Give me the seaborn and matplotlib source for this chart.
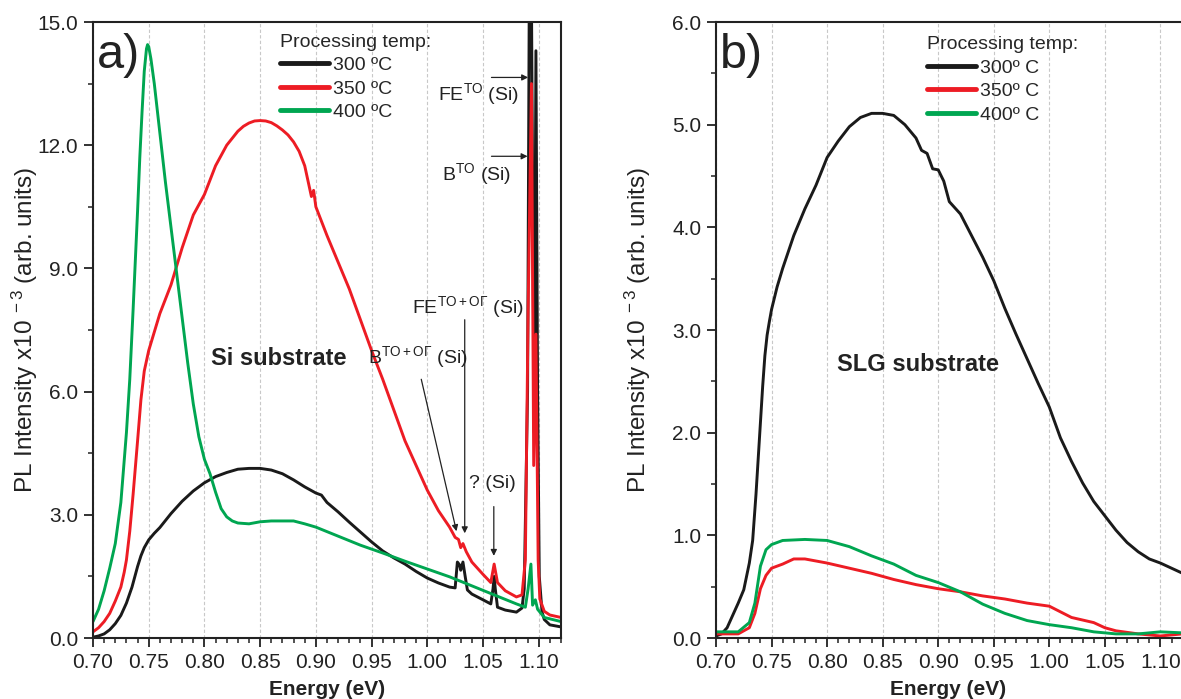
import matplotlib
matplotlib.use("Agg")
import matplotlib.pyplot as plt
from matplotlib.ticker import MultipleLocator, FormatStrFormatter
from matplotlib.lines import Line2D
import seaborn as sns
import pandas as pd

# ---------------- data ----------------
temps_a = ["300 ºC", "350 ºC", "400 ºC"]
temps_b = ["300º C", "350º C", "400º C"]
colors = ["#1a1a1a", "#ed1c24", "#00a651"]

# Panel a) Si substrate
E_a_300 = [0.700, 0.705, 0.710, 0.715, 0.720, 0.725, 0.730, 0.735, 0.740, 0.743, 0.746, 0.750, 0.755,
           0.760, 0.770, 0.780, 0.790, 0.800, 0.810, 0.820, 0.830, 0.840, 0.850, 0.860, 0.870, 0.880,
           0.890, 0.900, 0.905, 0.910, 0.920, 0.930, 0.940, 0.950, 0.960, 0.970, 0.980, 0.990, 1.000,
           1.010, 1.020, 1.025, 1.027, 1.029, 1.030, 1.032, 1.034, 1.036, 1.040, 1.050, 1.057, 1.059,
           1.060, 1.061, 1.063, 1.070, 1.080, 1.085, 1.087, 1.090, 1.0915, 1.0935, 1.0950, 1.0960,
           1.0975, 1.0990, 1.1005, 1.103, 1.105, 1.110, 1.120]
I_a_300 = [0.02, 0.05, 0.10, 0.20, 0.35, 0.55, 0.85, 1.24, 1.74, 2.00, 2.20, 2.39, 2.55,
           2.69, 3.03, 3.33, 3.58, 3.78, 3.93, 4.03, 4.11, 4.13, 4.13, 4.09, 4.00, 3.85,
           3.68, 3.53, 3.48, 3.30, 3.07, 2.82, 2.58, 2.34, 2.12, 1.95, 1.80, 1.62, 1.46,
           1.34, 1.24, 1.22, 1.85, 1.78, 1.65, 1.85, 1.50, 1.17, 1.07, 0.93, 0.83, 1.20,
           1.50, 1.20, 0.75, 0.68, 0.63, 0.73, 1.20, 6.00, 15.5, 15.5, 9.00, 5.00,
           14.3, 6.00, 1.50, 0.63, 0.45, 0.32, 0.27]

E_a_350 = [0.700, 0.705, 0.710, 0.715, 0.720, 0.725, 0.728, 0.730, 0.733, 0.736, 0.740, 0.743, 0.746,
           0.750, 0.755, 0.760, 0.770, 0.780, 0.790, 0.800, 0.810, 0.820, 0.830, 0.835, 0.840, 0.845,
           0.850, 0.855, 0.860, 0.865, 0.870, 0.875, 0.880, 0.885, 0.890, 0.894, 0.896, 0.898, 0.900,
           0.910, 0.920, 0.930, 0.940, 0.950, 0.960, 0.970, 0.980, 0.990, 1.000, 1.010, 1.020, 1.025,
           1.028, 1.030, 1.032, 1.035, 1.040, 1.050, 1.057, 1.060, 1.063, 1.070, 1.080, 1.085, 1.088,
           1.0905, 1.0935, 1.0955, 1.0975, 1.0995, 1.101, 1.105, 1.110, 1.120]
I_a_350 = [0.15, 0.25, 0.40, 0.60, 0.90, 1.24, 1.60, 1.90, 2.60, 3.50, 4.80, 5.80, 6.50,
           7.00, 7.45, 7.90, 8.60, 9.50, 10.30, 10.80, 11.50, 12.00, 12.34, 12.46, 12.54, 12.59,
           12.60, 12.59, 12.55, 12.47, 12.37, 12.25, 12.08, 11.85, 11.50, 11.00, 10.75, 10.90, 10.50,
           9.80, 9.15, 8.50, 7.75, 7.00, 6.30, 5.55, 4.80, 4.20, 3.60, 3.10, 2.70, 2.45,
           2.40, 2.20, 2.30, 2.10, 1.85, 1.55, 1.35, 1.80, 1.35, 1.15, 1.00, 1.05, 1.90,
           8.00, 13.5, 4.20, 7.40, 1.90, 0.95, 0.65, 0.56, 0.50]

E_a_400 = [0.700, 0.705, 0.710, 0.715, 0.720, 0.725, 0.730, 0.733, 0.736, 0.740, 0.742, 0.744, 0.746,
           0.748, 0.749, 0.750, 0.752, 0.755, 0.760, 0.765, 0.770, 0.775, 0.780, 0.785, 0.790, 0.795,
           0.800, 0.805, 0.810, 0.815, 0.820, 0.825, 0.830, 0.840, 0.850, 0.860, 0.870, 0.880, 0.890,
           0.900, 0.920, 0.940, 0.960, 0.980, 1.000, 1.020, 1.040, 1.060, 1.080, 1.088, 1.0905, 1.093,
           1.0945, 1.097, 1.099, 1.105, 1.120]
I_a_400 = [0.40, 0.70, 1.15, 1.70, 2.30, 3.30, 5.00, 6.30, 8.00, 10.40, 11.70, 12.80, 13.80,
           14.35, 14.45, 14.40, 14.10, 13.50, 12.30, 11.10, 10.00, 8.90, 7.80, 6.70, 5.70, 4.90,
           4.35, 4.00, 3.55, 3.15, 2.95, 2.85, 2.80, 2.78, 2.83, 2.85, 2.85, 2.85, 2.78,
           2.70, 2.48, 2.26, 2.07, 1.87, 1.68, 1.49, 1.27, 1.05, 0.83, 0.75, 1.20, 1.80,
           0.80, 0.93, 0.70, 0.50, 0.40]

# Panel b) SLG substrate
E_b_300 = [0.700, 0.705, 0.710, 0.720, 0.725, 0.730, 0.733, 0.736, 0.738, 0.740, 0.742, 0.744, 0.746,
           0.748, 0.750, 0.755, 0.760, 0.770, 0.780, 0.790, 0.800, 0.810, 0.820, 0.830, 0.840, 0.850,
           0.860, 0.870, 0.880, 0.885, 0.890, 0.895, 0.900, 0.905, 0.910, 0.920, 0.930, 0.940, 0.950,
           0.960, 0.970, 0.980, 0.990, 1.000, 1.010, 1.020, 1.030, 1.040, 1.050, 1.060, 1.070, 1.080,
           1.090, 1.100, 1.110, 1.120]
I_b_300 = [0.02, 0.04, 0.10, 0.34, 0.47, 0.73, 0.95, 1.40, 1.75, 2.10, 2.45, 2.75, 2.95,
           3.08, 3.20, 3.42, 3.60, 3.92, 4.18, 4.41, 4.68, 4.84, 4.98, 5.07, 5.11, 5.11,
           5.09, 5.00, 4.87, 4.75, 4.72, 4.57, 4.56, 4.45, 4.25, 4.13, 3.92, 3.71, 3.48,
           3.21, 2.96, 2.72, 2.48, 2.25, 1.95, 1.72, 1.51, 1.33, 1.19, 1.05, 0.93, 0.84,
           0.77, 0.73, 0.68, 0.63]

E_b_350 = [0.700, 0.720, 0.730, 0.735, 0.740, 0.745, 0.750, 0.760, 0.770, 0.780, 0.790, 0.800, 0.820,
           0.840, 0.860, 0.880, 0.900, 0.920, 0.940, 0.960, 0.980, 1.000, 1.020, 1.040, 1.050, 1.060,
           1.080, 1.100, 1.120]
I_b_350 = [0.04, 0.04, 0.10, 0.24, 0.48, 0.61, 0.68, 0.72, 0.77, 0.77, 0.75, 0.73, 0.68,
           0.63, 0.57, 0.52, 0.48, 0.45, 0.41, 0.38, 0.34, 0.31, 0.20, 0.15, 0.10, 0.07,
           0.04, 0.02, 0.04]

E_b_400 = [0.700, 0.720, 0.730, 0.735, 0.740, 0.745, 0.750, 0.760, 0.780, 0.800, 0.820, 0.840, 0.860,
           0.880, 0.900, 0.920, 0.940, 0.960, 0.980, 1.000, 1.020, 1.040, 1.060, 1.080, 1.100, 1.120]
I_b_400 = [0.06, 0.06, 0.15, 0.34, 0.70, 0.86, 0.91, 0.95, 0.96, 0.95, 0.89, 0.80, 0.72,
           0.61, 0.54, 0.45, 0.33, 0.24, 0.17, 0.13, 0.10, 0.06, 0.04, 0.04, 0.06, 0.05]

xticks = [0.70, 0.75, 0.80, 0.85, 0.90, 0.95, 1.00, 1.05, 1.10]

# ---------------- styling ----------------
sns.set_theme(style="ticks")
plt.rcParams["font.family"] = ["Liberation Sans", "DejaVu Sans"]
plt.rcParams["mathtext.fontset"] = "custom"
plt.rcParams["mathtext.rm"] = "Liberation Sans"
plt.rcParams["mathtext.it"] = "Liberation Sans:italic"
plt.rcParams["mathtext.bf"] = "Liberation Sans:bold"
plt.rcParams["axes.unicode_minus"] = True

INK = "#222222"
W, H = 1181, 699
fig = plt.figure(figsize=(W / 100, H / 100), dpi=100)
axA = fig.add_axes([93 / W, 61 / H, 468 / W, 616 / H])
axB = fig.add_axes([716 / W, 61 / H, 465 / W, 616 / H])


def make_df(Es, Is, labels):
    frames = []
    for e, i, lab in zip(Es, Is, labels):
        frames.append(pd.DataFrame({"Energy": e, "PL": i, "temp": lab}))
    return pd.concat(frames, ignore_index=True)


dfA = make_df([E_a_300, E_a_350, E_a_400], [I_a_300, I_a_350, I_a_400], temps_a)
dfB = make_df([E_b_300, E_b_350, E_b_400], [I_b_300, I_b_350, I_b_400], temps_b)

for ax, df, labels in [(axA, dfA, temps_a), (axB, dfB, temps_b)]:
    sns.lineplot(data=df, x="Energy", y="PL", hue="temp", hue_order=labels,
                 palette=colors, estimator=None, sort=True, lw=2.1, legend=False, ax=ax)

for ax, ymax, ystep in [(axA, 15.0, 3.0), (axB, 6.0, 1.0)]:
    ax.set_ylim(0, ymax)
    ax.yaxis.set_major_locator(MultipleLocator(ystep))
    ax.yaxis.set_minor_locator(MultipleLocator(ystep / 2))
    ax.yaxis.set_major_formatter(FormatStrFormatter("%.1f"))
    ax.set_xticks(xticks)
    ax.xaxis.set_minor_locator(MultipleLocator(0.01))
    ax.xaxis.set_major_formatter(FormatStrFormatter("%.2f"))
    ax.tick_params(which="major", direction="out", length=6.5, width=1.3, labelsize=15,
                   colors=INK, pad=4)
    ax.tick_params(which="minor", direction="out", length=3.5, width=1.1, colors=INK)
    ax.grid(axis="x", which="major", ls=(0, (3, 2)), color="#c8c8c8", lw=0.8)
    for s in ax.spines.values():
        s.set_linewidth(1.5)
        s.set_color(INK)
    ax.set_xlabel("Energy (eV)", fontsize=15, fontweight="bold", labelpad=6, color=INK)
    ax.set_ylabel(r"PL Intensity x10$^{\ -3}$ (arb. units)", fontsize=17.5, color=INK)

axA.yaxis.set_label_coords(-0.113, 0.5)
axB.yaxis.set_label_coords(-0.135, 0.5)

axA.set_xlim(0.70, 1.12)
axB.set_xlim(0.70, 0.70 + 465 / 1111)
axB.spines["right"].set_visible(False)

# panel labels and substrate names
axA.text(0.008, 0.982, "a)", transform=axA.transAxes, fontsize=35, va="top", ha="left", color=INK)
axB.text(0.008, 0.982, "b)", transform=axB.transAxes, fontsize=35, va="top", ha="left", color=INK)
axA.text(0.8664, 6.8, "Si substrate", fontsize=17, fontweight="bold", ha="center", va="center",
         color=INK)
axB.text(0.8815, 2.66, "SLG substrate", fontsize=17, fontweight="bold", ha="center", va="center",
         color=INK)

# legends
for ax, labels, anchor in [(axA, temps_a, (0.40, 0.981)), (axB, temps_b, (0.454, 0.977))]:
    handles = [Line2D([0], [0], color=c, lw=3.5) for c in colors]
    ax.legend(handles, labels, title="Processing temp:", loc="upper left",
              bbox_to_anchor=anchor, frameon=False, fontsize=14, title_fontsize=14,
              handlelength=2.5, handletextpad=0.2, labelspacing=0.3, borderpad=0,
              borderaxespad=0, alignment="left")

# annotations (panel a)
fs_ann = 14
arrow = dict(arrowstyle="-|>", color=INK, lw=0.9, mutation_scale=9, shrinkA=0, shrinkB=0)
axA.text(1.046, 13.25, r"FE$^{\mathrm{TO}}$ (Si)", fontsize=fs_ann, ha="center", va="center", color=INK)
axA.annotate("", xy=(1.0905, 13.65), xytext=(1.0576, 13.65), arrowprops=arrow)
axA.text(1.044, 11.3, r"B$^{\mathrm{TO}}$ (Si)", fontsize=fs_ann, ha="center", va="center", color=INK)
axA.annotate("", xy=(1.0900, 11.73), xytext=(1.0576, 11.73), arrowprops=arrow)
axA.text(1.036, 8.05, r"FE$^{\mathrm{TO+O\Gamma}}$ (Si)", fontsize=fs_ann, ha="center", va="center",
         color=INK)
axA.annotate("", xy=(1.0336, 2.55), xytext=(1.0336, 7.75), arrowprops=arrow)
axA.text(0.9916, 6.85, r"B$^{\mathrm{TO+O\Gamma}}$ (Si)", fontsize=fs_ann, ha="center", va="center",
         color=INK)
axA.annotate("", xy=(1.0262, 2.6), xytext=(0.9946, 6.3), arrowprops=arrow)
axA.text(1.0585, 3.75, "? (Si)", fontsize=fs_ann, ha="center", va="center", color=INK)
axA.annotate("", xy=(1.0597, 2.0), xytext=(1.0597, 3.2), arrowprops=arrow)

fig.savefig("out.png", dpi=100)
